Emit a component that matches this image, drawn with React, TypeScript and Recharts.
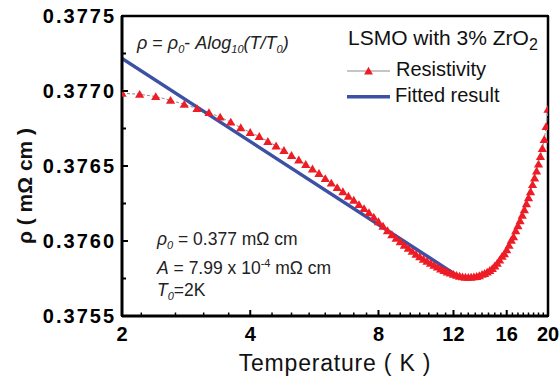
import React from 'react';
import { ComposedChart, Line, XAxis, YAxis, ReferenceArea, Legend, CartesianGrid } from 'recharts';

// Temperature (K)
const temperatureK = [
  2.0, 2.2, 2.4, 2.6, 2.8, 3.0, 3.2, 3.4, 3.6, 3.8,
  4.0, 4.2, 4.4, 4.6, 4.8, 5.0, 5.2, 5.4, 5.6, 5.8,
  6.0, 6.2, 6.4, 6.6, 6.8, 7.0, 7.2, 7.4, 7.6, 7.8,
  8.0, 8.2, 8.4, 8.6, 8.8, 9.0, 9.2, 9.4, 9.6, 9.8,
  10.0, 10.2, 10.4, 10.6, 10.8, 11.0, 11.2, 11.4, 11.6, 11.8,
  12.0, 12.2, 12.4, 12.6, 12.8, 13.0, 13.2, 13.4, 13.6, 13.8,
  14.0, 14.2, 14.4, 14.6, 14.8, 15.0, 15.2, 15.4, 15.6, 15.8,
  16.0, 16.2, 16.4, 16.6, 16.8, 17.0, 17.2, 17.4, 17.6, 17.8,
  18.0, 18.2, 18.4, 18.6, 18.8, 19.0, 19.2, 19.4, 19.6, 19.8,
  20.0,
];

// Resistivity (mΩ cm)
const resistivity = [
  0.376985, 0.376978, 0.376963, 0.376938, 0.376911, 0.376883, 0.376856, 0.376826, 0.376793, 0.376755,
  0.376724, 0.376697, 0.376664, 0.376634, 0.376604, 0.376570, 0.376540, 0.376510, 0.376480, 0.376450,
  0.376416, 0.376386, 0.376356, 0.376329, 0.376299, 0.376272, 0.376243, 0.376216, 0.376189, 0.376159,
  0.376129, 0.376099, 0.376069, 0.376042, 0.376018, 0.375995, 0.375972, 0.375951, 0.375931, 0.375911,
  0.375895, 0.375879, 0.375865, 0.375851, 0.375838, 0.375826, 0.375814, 0.375804, 0.375794, 0.375786,
  0.375778, 0.375771, 0.375765, 0.375761, 0.375759, 0.375758, 0.375759, 0.375761, 0.375764, 0.375769,
  0.375778, 0.375784, 0.375793, 0.375804, 0.375816, 0.375834, 0.375852, 0.375873, 0.375898, 0.375915,
  0.375941, 0.375971, 0.376005, 0.376028, 0.376069, 0.376102, 0.376135, 0.376172, 0.376209, 0.376249,
  0.376289, 0.376329, 0.376376, 0.376420, 0.376466, 0.376513, 0.376564, 0.376617, 0.376677, 0.376764,
  0.376878,
];

// Fitted line ρ = ρ0 - A log10(T/T0)
const fitTemperatureK = [2.0, 12.6];
const fitResistivity = [0.377217, 0.375746];

const xMajorTicks = [2, 4, 8, 12, 16, 20];
const xMinorTicks = [
  2.22, 2.67, 3.11, 3.56,
  4.5, 5, 5.5, 6, 6.5, 7, 7.5,
  8.5, 9, 9.5, 10, 10.5, 11, 11.5,
  12.5, 13, 13.5, 14, 14.5, 15, 15.5,
  16.5, 17, 17.5, 18, 18.5, 19, 19.5,
];
const yMajorTicks = [0.3755, 0.376, 0.3765, 0.377, 0.3775];
const yMinorTicks = [0.37575, 0.37625, 0.37675, 0.37725];

const seriesNames = ['Resistivity', 'Fitted result'];
const sampleTitle = 'LSMO with 3% ZrO';
const xTitle = 'Temperature ( K )';
const yTitle = 'ρ ( mΩ cm )';

const RED = '#ee1c25';
const BLUE = '#3b51a3';
const FONT = '"Liberation Sans", Arial, Helvetica, sans-serif';

const dataPoints = temperatureK.map((t, i) => ({ T: t, rho: resistivity[i] }));
const fitPoints = fitTemperatureK.map((t, i) => ({ T: t, fit: fitResistivity[i] }));
const xTicks = [...xMajorTicks, ...xMinorTicks].sort((a, b) => a - b);
const yTicks = [...yMajorTicks, ...yMinorTicks].sort((a, b) => a - b);

const XTick = (props: any) => {
  const { x, y, payload } = props;
  const major = xMajorTicks.includes(payload.value);
  return (
    <g>
      <line x1={x} y1={y} x2={x} y2={y - (major ? 6 : 3.5)} stroke="#000" strokeWidth={major ? 2 : 1.5} />
      {major && (
        <text x={x} y={y + 25} textAnchor="middle" fontFamily={FONT} fontWeight="bold" fontSize={20} fill="#000">
          {payload.value}
        </text>
      )}
    </g>
  );
};

const YTick = (props: any) => {
  const { x, y, payload } = props;
  const major = yMajorTicks.includes(payload.value);
  return (
    <g>
      <line x1={x} y1={y} x2={x + (major ? 6 : 4)} y2={y} stroke="#000" strokeWidth={2} />
      {major && (
        <text x={x - 6} y={y + 7} textAnchor="end" fontFamily={FONT} fontWeight="bold" fontSize={20} letterSpacing={2} fill="#000">
          {payload.value.toFixed(4)}
        </text>
      )}
    </g>
  );
};

const TriangleDot = (props: any) => {
  const { cx, cy, index } = props;
  if (cx == null || cy == null) return <g key={`t-${index}`} />;
  return (
    <polygon
      key={`t-${index}`}
      points={`${cx},${cy - 4.4} ${cx - 4.6},${cy + 3.5} ${cx + 4.6},${cy + 3.5}`}
      fill={RED}
    />
  );
};

const XLabel = (props: any) => {
  const vb = props.viewBox || { x: 122, y: 316, width: 426, height: 74 };
  const cx = vb.x + vb.width / 2;
  return (
    <text x={cx} y={vb.y + 55} textAnchor="middle" fontFamily={FONT} fontSize={23} letterSpacing={0.8} fill="#111">
      {xTitle}
    </text>
  );
};

const YLabel = (props: any) => {
  const vb = props.viewBox || { x: 0, y: 16, width: 122, height: 300 };
  const cx = vb.x + 24;
  const cy = vb.y + vb.height / 2 + 20;
  return (
    <text
      x={cx}
      y={cy}
      transform={`rotate(-90 ${cx} ${cy})`}
      textAnchor="middle"
      dominantBaseline="central"
      fontFamily={FONT}
      fontWeight="bold"
      fontSize={21}
      fill="#111"
    >
      {yTitle}
    </text>
  );
};

const LegendBox = () => (
  <svg width={215} height={95} style={{ display: 'block', overflow: 'visible' }}>
    <text x={10} y={27} fontFamily={FONT} fontSize={21} fill="#111">
      {sampleTitle}
      <tspan fontSize={16} dy={5}>2</tspan>
    </text>
    <line x1={9} y1={53} x2={52} y2={53} stroke="#8c8c8c" strokeWidth={1} />
    <polygon points="30.5,48.8 26.1,56.4 34.9,56.4" fill={RED} />
    <text x={58} y={58} fontFamily={FONT} fontSize={20} fill="#111">{seriesNames[0]}</text>
    <line x1={9} y1={78.7} x2={52} y2={78.7} stroke={BLUE} strokeWidth={3.5} />
    <text x={57} y={84} fontFamily={FONT} fontSize={20} fill="#111">{seriesNames[1]}</text>
  </svg>
);

const frameTop = (p: any) => [p.offset.top];
const frameRight = (p: any) => [p.offset.left + p.offset.width];

export default function App() {
  return (
    <div style={{ position: 'fixed', left: 0, top: 0, width: 560, height: 390, background: '#fff' }}>
      <ComposedChart width={560} height={390} margin={{ top: 16, right: 12, bottom: 0, left: 0 }}>
        <CartesianGrid
          stroke="#000"
          strokeWidth={2.5}
          strokeDasharray=""
          horizontalCoordinatesGenerator={frameTop}
          verticalCoordinatesGenerator={frameRight}
        />
        <ReferenceArea x1={2} x2={20} y1={0.3755} y2={0.3775} fill="none" fillOpacity={0} stroke="#000" strokeWidth={2} ifOverflow="visible" />
        <XAxis
          dataKey="T"
          type="number"
          scale="log"
          domain={[2, 20]}
          allowDataOverflow
          ticks={xTicks}
          interval={0}
          tick={XTick}
          tickLine={false}
          tickSize={0}
          tickMargin={0}
          height={74}
          axisLine={{ stroke: '#000', strokeWidth: 3 }}
          label={XLabel}
        />
        <YAxis
          type="number"
          domain={[0.3755, 0.3775]}
          allowDataOverflow
          ticks={yTicks}
          interval={0}
          tick={YTick}
          tickLine={false}
          tickSize={0}
          tickMargin={0}
          width={122}
          axisLine={{ stroke: '#000', strokeWidth: 3 }}
          label={YLabel}
        />
        <Line
          data={dataPoints}
          dataKey="rho"
          name={seriesNames[0]}
          type="linear"
          stroke="#8c8c8c"
          strokeWidth={1}
          strokeDasharray="3 2"
          dot={TriangleDot}
          activeDot={false}
          isAnimationActive={false}
        />
        <Line
          data={fitPoints}
          dataKey="fit"
          name={seriesNames[1]}
          type="linear"
          stroke={BLUE}
          strokeWidth={3.5}
          dot={false}
          activeDot={false}
          isAnimationActive={false}
        />
        <Legend
          layout="vertical"
          verticalAlign="middle"
          align="center"
          wrapperStyle={{ position: 'absolute', top: 18, left: 338, width: 215, height: 95 }}
          content={() => <LegendBox />}
        />
      </ComposedChart>
      <svg width={560} height={390} style={{ position: 'absolute', left: 0, top: 0, pointerEvents: 'none' }}>
        <text x={137} y={49} fontFamily={FONT} fontSize={18} fill="#222" style={{ whiteSpace: 'pre' }}>
          <tspan fontStyle="italic">ρ</tspan>
          <tspan>{' = '}</tspan>
          <tspan fontStyle="italic">ρ</tspan>
          <tspan fontStyle="italic" fontSize={11} dy={4}>0</tspan>
          <tspan dy={-4}>{'- '}</tspan>
          <tspan fontStyle="italic">Alog</tspan>
          <tspan fontStyle="italic" fontSize={11} dy={4}>10</tspan>
          <tspan fontStyle="italic" dy={-4}>(T/T</tspan>
          <tspan fontStyle="italic" fontSize={11} dy={4}>0</tspan>
          <tspan fontStyle="italic" dy={-4}>)</tspan>
        </text>
        <text x={157} y={245} fontFamily={FONT} fontSize={17.5} fill="#222" style={{ whiteSpace: 'pre' }}>
          <tspan fontStyle="italic">ρ</tspan>
          <tspan fontStyle="italic" fontSize={11} dy={4}>0</tspan>
          <tspan dy={-4}>{' = 0.377 mΩ cm'}</tspan>
        </text>
        <text x={157} y={274} fontFamily={FONT} fontSize={17.5} fill="#222" style={{ whiteSpace: 'pre' }}>
          <tspan fontStyle="italic">A</tspan>
          <tspan>{' = 7.99 x 10'}</tspan>
          <tspan fontSize={11} dy={-7}>-4</tspan>
          <tspan dy={7}>{' mΩ cm'}</tspan>
        </text>
        <text x={157} y={296} fontFamily={FONT} fontSize={17.5} fill="#222" style={{ whiteSpace: 'pre' }}>
          <tspan fontStyle="italic">T</tspan>
          <tspan fontStyle="italic" fontSize={11} dy={4}>0</tspan>
          <tspan dy={-4}>=2K</tspan>
        </text>
      </svg>
    </div>
  );
}
